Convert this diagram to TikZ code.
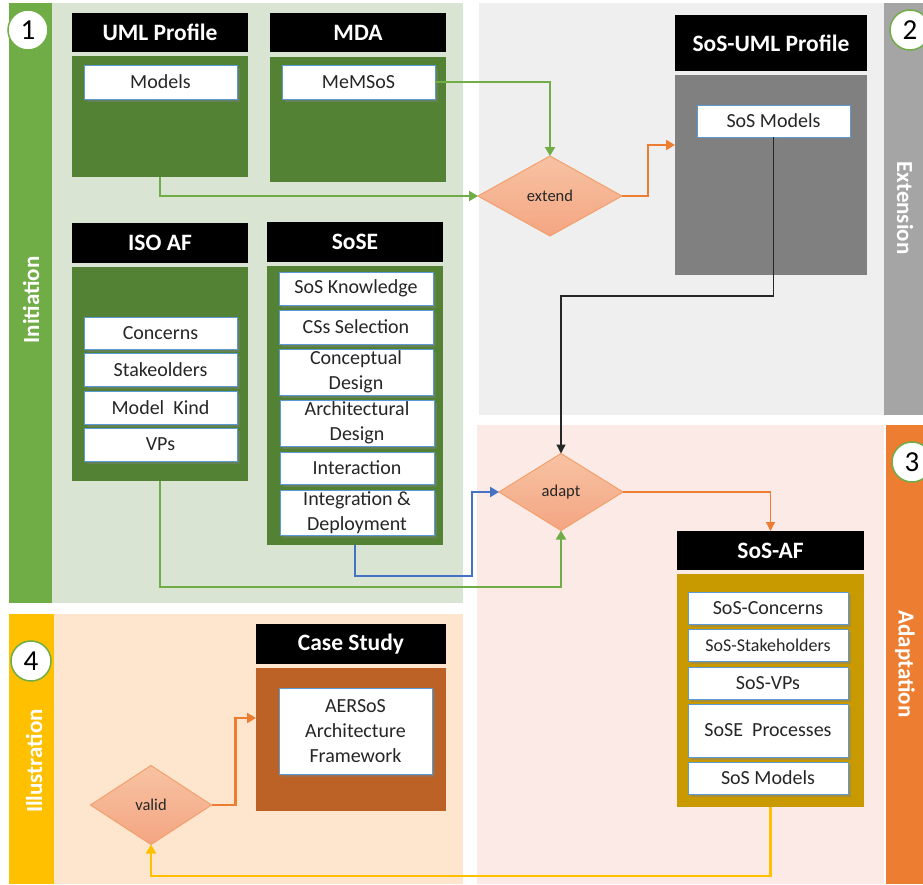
\documentclass[tikz,border=0pt]{standalone}
\usepackage{fontspec}
\setmainfont{Carlito}
\usetikzlibrary{shapes.geometric,shadows,arrows.meta}
\definecolor{iniStrip}{HTML}{70AD47}
\definecolor{iniPanel}{HTML}{DAE4D2}
\definecolor{iniBody}{HTML}{548235}
\definecolor{extStrip}{HTML}{A5A5A5}
\definecolor{extPanel}{HTML}{EFEFEF}
\definecolor{extBody}{HTML}{808080}
\definecolor{adaStrip}{HTML}{ED7D31}
\definecolor{adaPanel}{HTML}{FBEAE5}
\definecolor{adaBody}{HTML}{C99A00}
\definecolor{illStrip}{HTML}{FFC000}
\definecolor{illPanel}{HTML}{FDE6CD}
\definecolor{illBody}{HTML}{BD6226}
\definecolor{dmdTop}{HTML}{F7C3A3}
\definecolor{dmdBot}{HTML}{F4A582}
\definecolor{dmdLine}{HTML}{F2A06C}
\definecolor{boxLine}{HTML}{5B9BD5}
\definecolor{flowBlue}{HTML}{4472C4}
\definecolor{inkGray}{HTML}{262626}

\begin{document}
\begin{tikzpicture}[x=1pt,y=-1pt]
	\tikzstyle{every node}+=[inner sep=0pt, outer sep=0pt]
	\tikzstyle{head}=[anchor=north west, fill=black, text=white, font=\bfseries\fontsize{23.5}{27}\selectfont]
	\tikzstyle{body}=[anchor=north west]
	\tikzstyle{item}=[anchor=north west, draw=boxLine, line width=1pt, fill=white, text=inkGray, align=center,
		drop shadow={opacity=0.45, shadow xshift=3pt, shadow yshift=-3pt},
		font=\fontsize{20}{25}\selectfont]
	\tikzstyle{choice}=[diamond, draw=dmdLine, line width=1pt, top color=dmdTop, bottom color=dmdBot,
		text=inkGray, font=\fontsize{16.5}{18}\selectfont]
	\tikzstyle{num}=[circle, fill=white, draw=iniStrip, line width=1.5pt, minimum size=40pt, font=\fontsize{29}{30}\selectfont]
	\tikzstyle{side}=[text=white, font=\bfseries\fontsize{23}{26}\selectfont]
	\tikzstyle{flow}=[line width=2.2pt, -{Triangle[length=9pt,width=10pt]}]
	\tikzstyle{thinflow}=[line width=1.3pt, -{Triangle[length=9pt,width=9pt]}]

	\clip (0,0) rectangle (923,884);
	\fill[white] (0,0) rectangle (923,884);

	% phase panels
	\fill[iniStrip] (9,3) rectangle (52,603);
	\fill[iniPanel] (52,3) rectangle (463,603);
	\fill[extPanel] (479,3) rectangle (884,415);
	\fill[extStrip] (884,3) rectangle (923,415);
	\fill[adaPanel] (477,425) rectangle (884,884);
	\fill[adaStrip] (886,425) rectangle (923,884);
	\fill[illStrip] (9,614) rectangle (54,884);
	\fill[illPanel] (54,614) rectangle (463,884);

	\node[side, rotate=90] (initlabel) at (31,300) {Initiation};
	\node[side, rotate=-90] (extlabel) at (905,208) {Extension};
	\node[side, rotate=-90] (adalabel) at (905,664) {Adaptation};
	\node[side, rotate=90] (illlabel) at (34,761) {Illustration};

	\node[num] (numone) at (28,30) {1};
	\node[num] (numtwo) at (910,30) {2};
	\node[num] (numthree) at (912,462) {3};
	\node[num] (numfour) at (31,661) {4};

	% 1 - initiation
	\node[head, minimum width=176pt, minimum height=39pt] (umlhead) at (72,13) {UML Profile};
	\node[body, fill=iniBody, minimum width=176pt, minimum height=121pt] (umlbody) at (72,56) {};
	\node[item, minimum width=153pt, minimum height=34pt] (models) at (84,65) {Models};

	\node[head, minimum width=176pt, minimum height=39pt] (mdahead) at (270,13) {MDA};
	\node[body, fill=iniBody, minimum width=176pt, minimum height=125pt] (mdabody) at (270,57) {};
	\node[item, minimum width=153pt, minimum height=34pt] (memsos) at (282,65) {MeMSoS};

	\node[head, minimum width=176pt, minimum height=40pt] (isohead) at (72,223) {ISO AF};
	\node[body, fill=iniBody, minimum width=176pt, minimum height=214pt] (isobody) at (72,267) {};
	\node[item, minimum width=153pt, minimum height=32pt] (concerns) at (84,317) {Concerns};
	\node[item, minimum width=153pt, minimum height=33pt] (stakeolders) at (84,353) {Stakeolders};
	\node[item, minimum width=153pt, minimum height=33pt] (modelkind) at (84,391) {Model~ Kind};
	\node[item, minimum width=153pt, minimum height=33pt] (vps) at (84,428) {VPs};

	\node[head, minimum width=176pt, minimum height=40pt] (sosehead) at (267,222) {SoSE};
	\node[body, fill=iniBody, minimum width=176pt, minimum height=279pt] (sosebody) at (267,266) {};
	\node[item, minimum width=154pt, minimum height=33pt] (knowledge) at (279,272) {SoS Knowledge};
	\node[item, minimum width=154pt, minimum height=34pt] (selection) at (279,310) {CSs Selection};
	\node[item, minimum width=154pt, minimum height=46pt] (conceptual) at (279,349) {Conceptual\\Design};
	\node[item, minimum width=154pt, minimum height=46pt] (architectural) at (280,400) {Architectural\\Design};
	\node[item, minimum width=154pt, minimum height=32pt] (interaction) at (280,452) {Interaction};
	\node[item, minimum width=154pt, minimum height=45pt] (integration) at (280,490) {Integration \&\\Deployment};

	% 2 - extension
	\node[head, minimum width=192pt, minimum height=56pt] (sosumlhead) at (675,15) {SoS-UML Profile};
	\node[body, fill=extBody, minimum width=192pt, minimum height=200pt] (sosumlbody) at (675,75) {};
	\node[item, minimum width=153pt, minimum height=32pt] (sosmodels) at (697,105) {SoS Models};
	\node[choice, minimum width=144pt, minimum height=80pt] (extend) at (550,196) {extend};

	% 3 - adaptation
	\node[choice, minimum width=124pt, minimum height=77pt] (adapt) at (561,492) {adapt};
	\node[head, minimum width=187pt, minimum height=39pt] (sosafhead) at (677,531) {SoS-AF};
	\node[body, fill=adaBody, minimum width=187pt, minimum height=233pt] (sosafbody) at (677,574) {};
	\node[item, minimum width=160pt, minimum height=32pt] (sosconcerns) at (688,592) {SoS-Concerns};
	\node[item, minimum width=160pt, minimum height=32pt, font=\fontsize{18}{20}\selectfont] (sosstake) at (688,629) {SoS-Stakeholders};
	\node[item, minimum width=160pt, minimum height=32pt] (sosvps) at (688,667) {SoS-VPs};
	\node[item, minimum width=160pt, minimum height=53pt] (soseproc) at (688,704) {SoSE~ Processes};
	\node[item, minimum width=160pt, minimum height=32pt] (sosafmodels) at (688,762) {SoS Models};

	% 4 - illustration
	\node[head, minimum width=190pt, minimum height=40pt] (casehead) at (256,624) {Case Study};
	\node[body, fill=illBody, minimum width=190pt, minimum height=143pt] (casebody) at (256,668) {};
	\node[item, minimum width=153pt, minimum height=86pt] (aersos) at (279,688) {AERSoS\\Architecture\\Framework};
	\node[choice, minimum width=121pt, minimum height=79pt] (valid) at (151,805) {valid};

	% connectors
	\draw[flow, iniStrip] (memsos.east) -| (extend.north);
	\draw[flow, iniStrip] (umlbody.south) |- (extend.west);
	\draw[flow, adaStrip] (extend.east) -- ++(26,0) |- ([yshift=-70pt]sosumlbody.north west);
	\draw[thinflow, black!85] (sosmodels.south) -- ++(0,159) -| (adapt.north);
	\draw[flow, flowBlue] (sosebody.south) -- ++(0,31) -- ++(117,0) |- (adapt.west);
	\draw[flow, iniStrip] (isobody.south) -- ++(0,106) -| (adapt.south);
	\draw[thinflow, adaStrip] (adapt.east) -| (sosafhead.north);
	\draw[flow, adaStrip] (valid.east) -- ++(24,0) |- ([yshift=-50pt]casebody.north west);
	\draw[flow, illStrip] (sosafbody.south) -- ++(0,69) -| (valid.south);
\end{tikzpicture}
\end{document}
